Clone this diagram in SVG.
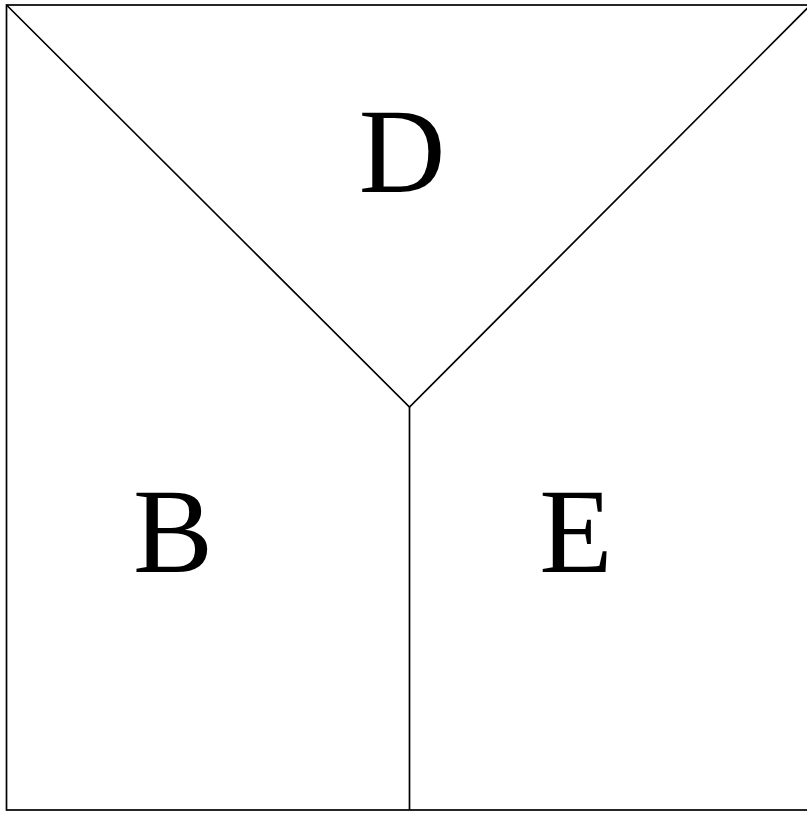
<svg xmlns="http://www.w3.org/2000/svg" width="807" height="813" viewBox="0 0 807 813">
<style>
.ln{fill:none;stroke:#000;stroke-width:1.7}
.lb{font-family:"Times New Roman",Times,"Nimbus Roman","Liberation Serif",serif;font-size:120px;fill:#000;text-anchor:middle}
</style>
<rect width="807" height="813" fill="#fff"/>
<g id="connectors">
<rect class="ln" x="6.5" y="5" width="804" height="805"/>
<polyline class="ln" points="6.5,5 409.5,407 810.5,5"/>
<line class="ln" x1="409.5" y1="407" x2="409.5" y2="810"/>
</g>
<g id="D"><text class="lb" x="402" y="192">D</text></g>
<g id="B"><text class="lb" x="173" y="572">B</text></g>
<g id="E"><text class="lb" x="576" y="572">E</text></g>
</svg>
